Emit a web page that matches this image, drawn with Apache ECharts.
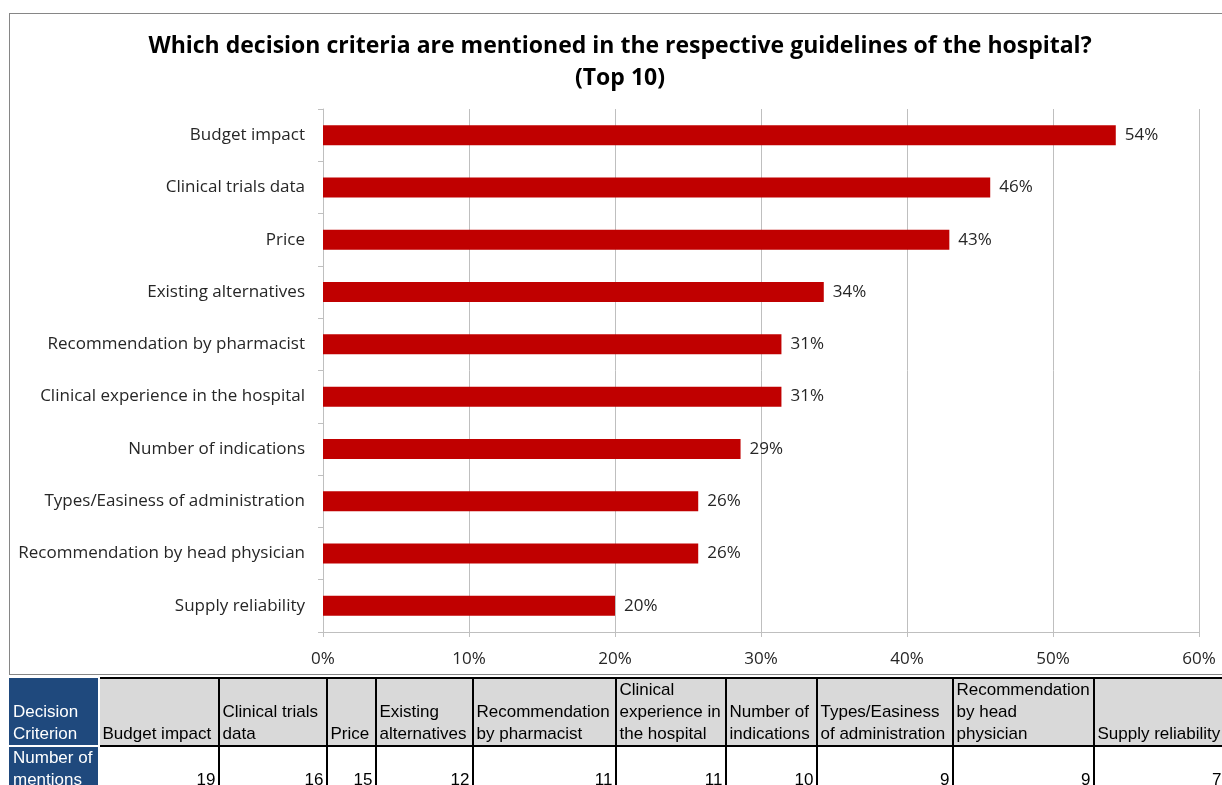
<!DOCTYPE html>
<html>
<head>
<meta charset="utf-8">
<script src="https://cdn.jsdelivr.net/npm/echarts@6/dist/echarts.min.js"></script>
<style>
  html, body { margin: 0; padding: 0; background: #fff; }
  #wrap { position: relative; width: 1222px; height: 785px; overflow: hidden; }
  #frame { position: absolute; left: 9px; top: 13px; width: 1230px; height: 662px;
           border: 1.5px solid #868686; box-sizing: border-box; }
  #chart { position: absolute; left: 0; top: 0; width: 1222px; height: 785px; }
  #tbl { position: absolute; left: 9px; top: 677px; border-collapse: collapse;
         font-family: "Liberation Sans", Arial, sans-serif; font-size: 17px; line-height: 22px;
         table-layout: fixed; }
  #tbl td { border: 2px solid #000; padding: 0 1px 0 3px; vertical-align: bottom; color: #000;
            overflow: hidden; white-space: nowrap; }
  #tbl tr.head td { background: #d9d9d9; height: 64px; text-align: left; }
  #tbl tr.body td { background: #fff; height: 40px; text-align: right; padding-right: 2px; }
  #tbl td.rowhead { background: #1f497d !important; color: #fff; text-align: left !important;
                    border: 2px solid #fff; border-left: 1px solid #1f497d; border-top: 1px solid #1f497d; }
</style>
</head>
<body>
<div id="wrap">
  <div id="frame"></div>
  <div id="chart"></div>
  <table id="tbl"></table>
</div>
<script>
// Share of hospitals whose guidelines mention each criterion (%)
const criteria = [
  'Budget impact',
  'Clinical trials data',
  'Price',
  'Existing alternatives',
  'Recommendation by pharmacist',
  'Clinical experience in the hospital',
  'Number of indications',
  'Types/Easiness of administration',
  'Recommendation by head physician',
  'Supply reliability'
];
const shares = [54.3, 45.7, 42.9, 34.3, 31.4, 31.4, 28.6, 25.7, 25.7, 20.0];
const mentions = [19, 16, 15, 12, 11, 11, 10, 9, 9, 7];
const xTicks = [0, 10, 20, 30, 40, 50, 60];

// Table header labels (line breaks as shown in the sheet)
const tableHeads = [
  'Budget impact',
  'Clinical trials<br>data',
  'Price',
  'Existing<br>alternatives',
  'Recommendation<br>by pharmacist',
  'Clinical<br>experience in<br>the hospital',
  'Number of<br>indications',
  'Types/Easiness<br>of administration',
  'Recommendation<br>by head<br>physician',
  'Supply reliability'
];
const colWidths = [89, 120, 108, 49, 97, 143, 110, 91, 136, 141, 131];

const chart = echarts.init(document.getElementById('chart'), null, { renderer: 'canvas' });
const labelFont = '"Open Sans", Lato, sans-serif';

chart.setOption({
  animation: false,
  title: {
    text: 'Which decision criteria are mentioned in the respective guidelines of the hospital?\n(Top 10)',
    left: 615,
    top: 25,
    textAlign: 'center',
    textStyle: { fontFamily: labelFont, fontWeight: 'bold', fontSize: 23, lineHeight: 32, color: '#000' }
  },
  grid: { left: 323, right: 23, top: 109, bottom: 153, containLabel: false },
  xAxis: {
    type: 'value',
    min: xTicks[0],
    max: xTicks[xTicks.length - 1],
    interval: 10,
    axisLine: { show: true, lineStyle: { color: '#bfbfbf', width: 1 } },
    axisTick: { show: true, length: 5, lineStyle: { color: '#bfbfbf' } },
    splitLine: { show: true, lineStyle: { color: '#bfbfbf', width: 1 } },
    axisLabel: {
      margin: 19,
      fontFamily: labelFont, fontSize: 17, color: '#262626',
      formatter: v => v + '%'
    }
  },
  yAxis: {
    type: 'category',
    data: criteria,
    inverse: true,
    axisLine: { show: true, lineStyle: { color: '#bfbfbf', width: 1 } },
    axisTick: { show: true, length: 5, lineStyle: { color: '#bfbfbf' } },
    axisLabel: { margin: 18, fontFamily: labelFont, fontSize: 17, color: '#262626' }
  },
  series: [{
    type: 'bar',
    data: shares,
    barWidth: 20,
    itemStyle: { color: '#c00000' },
    label: {
      show: true,
      position: 'right',
      distance: 9,
      fontFamily: labelFont, fontSize: 17, color: '#262626',
      formatter: p => Math.round(p.value) + '%'
    }
  }]
});

// Data table underneath the chart
const tbl = document.getElementById('tbl');
tbl.style.width = colWidths.reduce((a, b) => a + b, 0) + 'px';
const cg = document.createElement('colgroup');
colWidths.forEach(w => { const c = document.createElement('col'); c.style.width = w + 'px'; cg.appendChild(c); });
tbl.appendChild(cg);
const trH = document.createElement('tr');
trH.className = 'head';
trH.innerHTML = '<td class="rowhead">Decision<br>Criterion</td>' + tableHeads.map(h => '<td>' + h + '</td>').join('');
tbl.appendChild(trH);
const trB = document.createElement('tr');
trB.className = 'body';
trB.innerHTML = '<td class="rowhead" style="vertical-align:top">Number of<br>mentions</td>' +
  mentions.map(m => '<td>' + m + '</td>').join('');
tbl.appendChild(trB);
</script>
</body>
</html>
